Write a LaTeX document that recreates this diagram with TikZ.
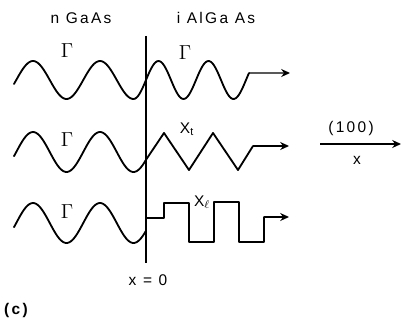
\documentclass[tikz,border=0pt]{standalone}
\usepackage{fontspec}
\setmainfont{Liberation Sans}
\newfontfamily\lblfont[LetterSpace=15]{Liberation Sans}
\usetikzlibrary{arrows.meta}

\begin{document}
\begin{tikzpicture}[
            x=0.25mm,
            y=-0.25mm,
            >={Stealth[length=2.2mm,width=2mm]},
            wave/.style={line width=1.3pt, line cap=round, line join=round},
            ray/.style={line width=0.9pt, ->},
            lbl/.style={font=\lblfont\fontsize{11}{12}\selectfont, inner sep=0pt},
            gam/.style={font=\fontsize{15}{16}\selectfont, inner sep=0pt}
            ]
            \useasboundingbox (0,0) rectangle (403,324);

            % 标题
            \node[lbl] (ngaas) at (81,18) {n GaAs};
            \node[lbl] (ialgaas) at (216,18) {i AlGa As};

            % 界面
            \coordinate (itop) at (146,36);
            \coordinate (ibot) at (146,263);
            \draw[line width=0.9pt] (itop) -- (ibot);
            \node[lbl] (xzero) at (148,280) {x = 0};

            % Gamma -> Gamma
            \draw[wave] plot[domain=14:133.5, samples=80] (\x,{80-19*cos(5.3731*(\x-33))})
                     -- plot[domain=133.5:249, samples=80] (\x,{80+19*cos(7.2*(\x-133.5))}) coordinate (w1end);
            \coordinate (w1tip) at (290,73);
            \draw[ray] (w1end) -- (w1tip);
            \node[gam] (g1a) at (67,51) {$\Gamma$};
            \node[gam] (g1b) at (185,53) {$\Gamma$};

            % Gamma -> X_t
            \draw[wave] plot[domain=14:146, samples=80] (\x,{152-20*cos(5.3731*(\x-33))})
                     -- (164,133) -- (189,170) -- (213,133) -- (238,170) -- (253,146) coordinate (w2end);
            \coordinate (w2tip) at (289,146);
            \draw[ray] (w2end) -- (w2tip);
            \node[gam] (g2a) at (67,140) {$\Gamma$};
            \node[lbl] (xt) at (187,129) {X\textsubscript{t}};

            % Gamma -> X_l
            \draw[wave] plot[domain=14:146, samples=80] (\x,{223-20*cos(5.3731*(\x-33))});
            \draw[wave] (146,218) -- (164,218) -- (164,203) -- (189,203) -- (189,242)
                     -- (214,242) -- (214,202) -- (239,202) -- (239,242) -- (264,242)
                     -- (264,217) coordinate (w3end);
            \coordinate (w3tip) at (289,217);
            \draw[ray] (w3end) -- (w3tip);
            \node[gam] (g3a) at (67,212) {$\Gamma$};
            \node[lbl] (xl) at (202,202) {X$_{\ell}$};

            % 方向
            \coordinate (dirA) at (320,144);
            \coordinate (dirB) at (401,144);
            \draw[ray] (dirA) -- (dirB);
            \node[lbl] (dir) at (351,128) {(100)};
            \node[lbl] (xdir) at (357,160) {x};

            \node[lbl, font=\lblfont\bfseries\fontsize{11}{12}\selectfont] (pc) at (16,310) {(c)};
\end{tikzpicture}
\end{document}
